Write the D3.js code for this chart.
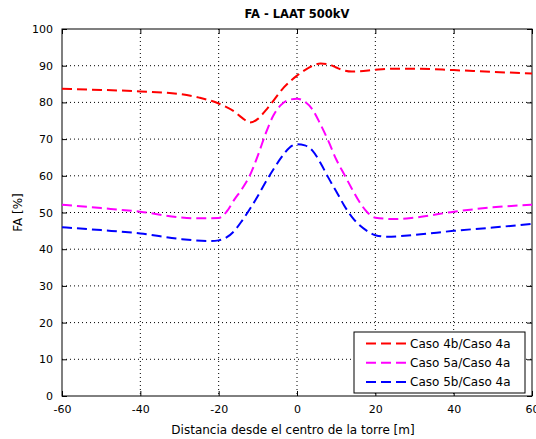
<!DOCTYPE html>
<html>
<head>
<meta charset="utf-8">
<script src="https://cdn.jsdelivr.net/npm/d3@7"></script>
<style>
  body { margin: 0; background: #fff; }
  text { font-family: "DejaVu Sans", "Liberation Sans", Arial, sans-serif; }
</style>
</head>
<body>
<div class="chart"></div>
<script>
// data
const xTicks = [-60, -40, -20, 0, 20, 40, 60]
const yTicks = [0, 10, 20, 30, 40, 50, 60, 70, 80, 90, 100]

const red_x = [-60, -50, -40, -30, -25, -20, -16, -14, -12, -10, -8, -6, -4, -2, 0, 2, 4, 6, 8, 10, 12, 14, 16, 20, 25, 30, 40, 50, 60]
const red_y = [83.7, 83.4, 83.0, 82.3, 81.3, 79.7, 77.5, 75.8, 74.5, 75.5, 77.8, 80.5, 83.3, 85.5, 87.3, 88.8, 90.0, 90.6, 90.4, 89.5, 88.7, 88.4, 88.5, 88.9, 89.2, 89.2, 88.8, 88.3, 87.9]

const mag_x = [-60, -50, -40, -30, -25, -20, -18, -16, -14, -12, -10, -8, -6, -4, -2, 0, 2, 4, 6, 8, 10, 12, 14, 16, 18, 20, 25, 30, 40, 50, 60]
const mag_y = [52.1, 51.2, 50.2, 48.7, 48.4, 48.5, 50.2, 53.5, 56.5, 60.2, 65.5, 71.5, 76.5, 79.4, 80.7, 81.0, 80.2, 78.0, 74.0, 69.5, 64.5, 60.5, 56.5, 52.8, 50.0, 48.6, 48.2, 48.6, 50.2, 51.4, 52.1]

const blue_x = [-60, -50, -40, -30, -22, -20, -18, -16, -14, -12, -10, -8, -6, -4, -2, 0, 2, 4, 6, 8, 10, 12, 14, 16, 18, 20, 23, 30, 40, 50, 60]
const blue_y = [46.0, 45.2, 44.3, 42.8, 42.2, 42.4, 43.2, 45.0, 47.8, 51.0, 54.5, 58.3, 61.8, 65.0, 67.6, 68.6, 68.3, 66.8, 63.5, 59.5, 55.8, 52.0, 48.8, 46.5, 44.9, 43.8, 43.4, 43.9, 45.0, 45.9, 46.9]

const seriesNames = ['Caso 4b/Caso 4a', 'Caso 5a/Caso 4a', 'Caso 5b/Caso 4a']
const seriesColors = ['#ff0000', '#ff00ff', '#0000ff']

const series = [
    { name: seriesNames[0], color: seriesColors[0], xs: red_x, ys: red_y },
    { name: seriesNames[1], color: seriesColors[1], xs: mag_x, ys: mag_y },
    { name: seriesNames[2], color: seriesColors[2], xs: blue_x, ys: blue_y },
]

const svgWidth = 536, svgHeight = 439
const margin = { top: 29, left: 62, right: 4, bottom: 43 }
const width = svgWidth - margin.left - margin.right
const height = svgHeight - margin.top - margin.bottom

const svg = d3.select('div.chart')
    .append('svg')
    .attr('width', svgWidth)
    .attr('height', svgHeight)

const chart = svg.append('g')
    .attr('transform', 'translate(' + margin.left + ',' + margin.top + ')')

const x = d3.scaleLinear().domain([-60, 60]).range([0, width])
const y = d3.scaleLinear().domain([0, 100]).range([height, 0])

// dotted grid
chart.append('g')
    .selectAll('line.vgrid')
    .data(xTicks.slice(1, -1))
    .enter().append('line')
    .attr('x1', d => x(d)).attr('x2', d => x(d))
    .attr('y1', 0).attr('y2', height)
    .attr('stroke', '#000').attr('stroke-width', 1)
    .attr('stroke-dasharray', '1,3')

chart.append('g')
    .selectAll('line.hgrid')
    .data(yTicks.slice(1, -1))
    .enter().append('line')
    .attr('x1', 0).attr('x2', width)
    .attr('y1', d => y(d)).attr('y2', d => y(d))
    .attr('stroke', '#000').attr('stroke-width', 1)
    .attr('stroke-dasharray', '1,3')

// axes, ticks inside like matlab
const axisStyle = g => {
    g.select('.domain').remove()
    g.selectAll('text').style('font-size', '11px').attr('fill', '#000')
}
const plain = d => String(d)   // plain hyphen for negatives

chart.append('g')
    .attr('transform', 'translate(0,' + height + ')')
    .call(d3.axisBottom(x).tickValues(xTicks).tickFormat(plain).tickSizeInner(-5).tickSizeOuter(0).tickPadding(9))
    .call(axisStyle)

chart.append('g')
    .call(d3.axisTop(x).tickValues(xTicks).tickSizeInner(-5).tickSizeOuter(0).tickFormat(''))
    .call(axisStyle)

chart.append('g')
    .call(d3.axisLeft(y).tickValues(yTicks).tickFormat(plain).tickSizeInner(-5).tickSizeOuter(0).tickPadding(9))
    .call(axisStyle)

chart.append('g')
    .attr('transform', 'translate(' + width + ',0)')
    .call(d3.axisRight(y).tickValues(yTicks).tickSizeInner(-5).tickSizeOuter(0).tickFormat(''))
    .call(axisStyle)

chart.append('rect')
    .attr('width', width).attr('height', height)
    .attr('fill', 'none').attr('stroke', '#000').attr('stroke-width', 1)

// curves
const line = d3.line()
    .x(d => x(d[0]))
    .y(d => y(d[1]))
    .curve(d3.curveMonotoneX)

series.forEach(s => {
    chart.append('path')
        .datum(s.xs.map((v, i) => [v, s.ys[i]]))
        .attr('d', line)
        .attr('fill', 'none')
        .attr('stroke', s.color)
        .attr('stroke-width', 2)
        .attr('stroke-dasharray', '10,5')
})

// legend
const legend = svg.append('g').attr('transform', 'translate(354,332)')
legend.append('rect')
    .attr('width', 171).attr('height', 61)
    .attr('fill', '#fff').attr('stroke', '#000').attr('stroke-width', 1)

series.forEach((s, i) => {
    const yy = 11.5 + i * 19.2
    legend.append('line')
        .attr('x1', 12).attr('x2', 52)
        .attr('y1', yy).attr('y2', yy)
        .attr('stroke', s.color).attr('stroke-width', 2)
        .attr('stroke-dasharray', '10,5')
    legend.append('text')
        .attr('x', 56).attr('y', yy + 4.5)
        .style('font-size', '12px')
        .text(s.name)
})

// titles
svg.append('text')
    .attr('x', margin.left + width / 2).attr('y', 18)
    .attr('text-anchor', 'middle')
    .style('font-size', '11.5px').style('font-weight', 'bold')
    .text('FA - LAAT 500kV')

svg.append('text')
    .attr('x', margin.left + width / 2 - 4).attr('y', 434)
    .attr('text-anchor', 'middle')
    .style('font-size', '12px')
    .text('Distancia desde el centro de la torre [m]')

svg.append('text')
    .attr('transform', 'translate(22,' + (margin.top + height / 2) + ') rotate(-90)')
    .attr('text-anchor', 'middle')
    .style('font-size', '12px')
    .text('FA [%]')
</script>
</body>
</html>
